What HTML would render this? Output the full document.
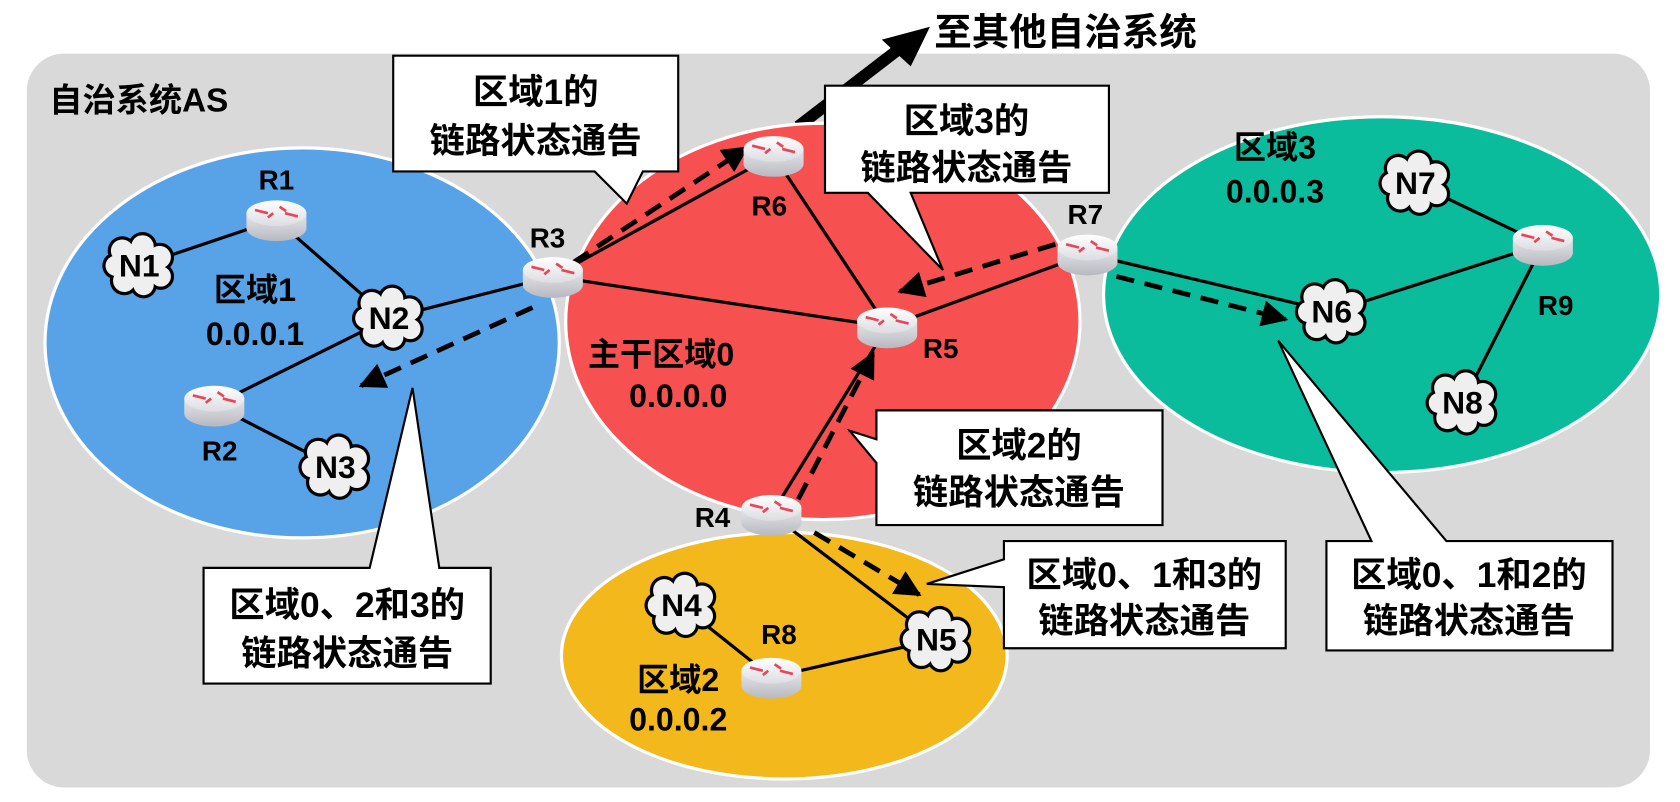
<!DOCTYPE html>
<html><head><meta charset="utf-8"><style>
html,body{margin:0;padding:0;background:#fff;}
svg{display:block}
text{font-family:"Liberation Sans","Noto Sans CJK SC",sans-serif;font-weight:bold;fill:#000}
</style></head><body>
<svg width="1680" height="802" viewBox="0 0 1568 748.5" preserveAspectRatio="none" xmlns="http://www.w3.org/2000/svg">
<defs>
<linearGradient id="rs" x1="0" x2="0" y1="0" y2="1"><stop offset="0" stop-color="#e6e6ea"/><stop offset="1" stop-color="#b8b9c0"/></linearGradient>
<linearGradient id="rt" x1="0" x2="0" y1="0" y2="1"><stop offset="0" stop-color="#ffffff"/><stop offset="1" stop-color="#dcdde2"/></linearGradient>
<g id="rtr">
<path d="M-28,-6 L-28,8 A28,12 0 0 0 28,8 L28,-6 Z" fill="url(#rs)"/>
<ellipse cx="0" cy="-6" rx="28" ry="12" fill="url(#rt)"/>
<g stroke="#e8455a" stroke-width="2.5" fill="none">
<path d="M-20,-9 L-8,-6"/><path d="M-8,-2 L-3,-6"/><path d="M3,-12 L9,-8"/><path d="M20,-3 L8,-6"/>
</g>
</g>
<g id="cld">
<g fill="#000">
<circle cx="-16" cy="-14" r="13.5"/><circle cx="3" cy="-18" r="13.5"/><circle cx="19" cy="-8" r="13.5"/><circle cx="20" cy="10" r="12.5"/><circle cx="4" cy="18" r="12.5"/><circle cx="-14" cy="14" r="13.5"/><circle cx="-22" cy="0" r="12.5"/>
</g>
<g fill="#efefef">
<circle cx="-16" cy="-14" r="10.5"/><circle cx="3" cy="-18" r="10.5"/><circle cx="19" cy="-8" r="10.5"/><circle cx="20" cy="10" r="9.5"/><circle cx="4" cy="18" r="9.5"/><circle cx="-14" cy="14" r="10.5"/><circle cx="-22" cy="0" r="9.5"/>
<ellipse cx="0" cy="0" rx="22" ry="19"/>
</g>
</g>
<marker id="ah" viewBox="0 0 10 10" refX="9" refY="5" markerWidth="5.5" markerHeight="5.5" orient="auto"><path d="M0,0 L10,5 L0,10 Z" fill="#000"/></marker>
</defs>

<rect x="25" y="50" width="1515" height="685" rx="35" fill="#d9d9d9"/>
<text x="46" y="104" font-size="31">自治系统AS</text>
<text x="872" y="42" font-size="35">至其他自治系统</text>
<line x1="745" y1="118" x2="840" y2="45" stroke="#000" stroke-width="11"/>
<path d="M868,25 L823,37 L850,62 Z" fill="#000"/>

<ellipse cx="282" cy="320" rx="240" ry="182" fill="#58a3e8" stroke="#fff" stroke-width="3"/>
<ellipse cx="1290" cy="275" rx="260" ry="166" fill="#0bbc9c" stroke="#fff" stroke-width="3"/>
<ellipse cx="768" cy="300" rx="240" ry="185" fill="#f65051" stroke="#fff" stroke-width="3"/>
<ellipse cx="732" cy="612" rx="208" ry="115" fill="#f2b81c" stroke="#fff" stroke-width="3"/>

<g stroke="#000" stroke-width="3">
<line x1="130" y1="248" x2="258" y2="205"/>
<line x1="258" y1="205" x2="363" y2="297"/>
<line x1="363" y1="297" x2="516" y2="258"/>
<line x1="363" y1="297" x2="200" y2="378"/>
<line x1="200" y1="378" x2="313" y2="436"/>
<line x1="516" y1="258" x2="722" y2="145"/>
<line x1="516" y1="258" x2="828" y2="305"/>
<line x1="722" y1="145" x2="828" y2="305"/>
<line x1="828" y1="305" x2="720" y2="480"/>
<line x1="828" y1="305" x2="1015" y2="237"/>
<line x1="1015" y1="237" x2="1243" y2="291"/>
<line x1="1243" y1="291" x2="1440" y2="228"/>
<line x1="1440" y1="228" x2="1321" y2="171"/>
<line x1="1440" y1="228" x2="1365" y2="376"/>
<line x1="720" y1="480" x2="874" y2="597"/>
<line x1="874" y1="597" x2="720" y2="632"/>
<line x1="720" y1="632" x2="636" y2="565"/>
</g>

<g stroke="#000" stroke-width="4.5" stroke-dasharray="17,10" fill="none" marker-end="url(#ah)">
<line x1="497" y1="287" x2="337" y2="360"/>
<line x1="535" y1="245" x2="697" y2="138"/>
<line x1="985" y1="228" x2="840" y2="272"/>
<line x1="1042" y1="258" x2="1200" y2="298"/>
<line x1="745" y1="466" x2="815" y2="330"/>
<line x1="760" y1="497" x2="858" y2="555"/>
</g>

<g fill="#fff" stroke="#000" stroke-width="2">
<path d="M367,52 H633 V160 H600 L585,190 L555,160 H367 Z"/>
<path d="M770,80 H1035 V180 H850 L880,252 L810,180 H770 Z"/>
<path d="M818,383 H1085 V490 H818 V432 L793,402 L818,410 Z"/>
<path d="M937,505 H1200 V605 H937 V548 L865,545 L937,522 Z"/>
<path d="M190,530 H345 L385,362 L410,530 H458 V638 H190 Z"/>
<path d="M1238,505 H1280 L1193,318 L1350,505 H1505 V607 H1238 Z"/>
</g>
<g font-size="33" text-anchor="middle">
<text x="500" y="97">区域1的</text><text x="500" y="143">链路状态通告</text>
<text x="902" y="124">区域3的</text><text x="902" y="168">链路状态通告</text>
<text x="951" y="427">区域2的</text><text x="951" y="471">链路状态通告</text>
<text x="1068" y="548">区域0、1和3的</text><text x="1068" y="591">链路状态通告</text>
<text x="324" y="576">区域0、2和3的</text><text x="324" y="621">链路状态通告</text>
<text x="1371" y="548">区域0、1和2的</text><text x="1371" y="591">链路状态通告</text>
</g>

<g>
<use href="#rtr" x="258" y="205"/><use href="#rtr" x="200" y="378"/><use href="#rtr" x="516" y="258"/>
<use href="#rtr" x="720" y="480"/><use href="#rtr" x="828" y="305"/><use href="#rtr" x="722" y="145"/>
<use href="#rtr" x="1015" y="237"/><use href="#rtr" x="720" y="632"/><use href="#rtr" x="1440" y="228"/>
</g>
<g>
<use href="#cld" x="130" y="248"/><use href="#cld" x="363" y="297"/><use href="#cld" x="313" y="436"/>
<use href="#cld" x="636" y="565"/><use href="#cld" x="874" y="597"/><use href="#cld" x="1243" y="291"/>
<use href="#cld" x="1321" y="171"/><use href="#cld" x="1365" y="376"/>
</g>
<g font-size="29" text-anchor="middle">
<text x="130" y="258" textLength="38" lengthAdjust="spacingAndGlyphs">N1</text><text x="363" y="307" textLength="38" lengthAdjust="spacingAndGlyphs">N2</text><text x="313" y="446" textLength="38" lengthAdjust="spacingAndGlyphs">N3</text>
<text x="636" y="575" textLength="38" lengthAdjust="spacingAndGlyphs">N4</text><text x="874" y="607" textLength="38" lengthAdjust="spacingAndGlyphs">N5</text><text x="1243" y="301" textLength="38" lengthAdjust="spacingAndGlyphs">N6</text>
<text x="1321" y="181" textLength="38" lengthAdjust="spacingAndGlyphs">N7</text><text x="1365" y="386" textLength="38" lengthAdjust="spacingAndGlyphs">N8</text>
</g>
<g font-size="26" text-anchor="middle">
<text x="258" y="177">R1</text><text x="205" y="430">R2</text><text x="511" y="231">R3</text>
<text x="665" y="492">R4</text><text x="878" y="334">R5</text><text x="718" y="201">R6</text>
<text x="1013" y="209">R7</text><text x="727" y="601">R8</text><text x="1452" y="294">R9</text>
</g>
<g font-size="30" text-anchor="middle">
<text x="238" y="281">区域1</text><text x="238" y="322">0.0.0.1</text>
<text x="617" y="341">主干区域0</text><text x="633" y="380">0.0.0.0</text>
<text x="1190" y="148">区域3</text><text x="1190" y="189">0.0.0.3</text>
<text x="633" y="645">区域2</text><text x="633" y="682">0.0.0.2</text>
</g>
</svg>
</body></html>
